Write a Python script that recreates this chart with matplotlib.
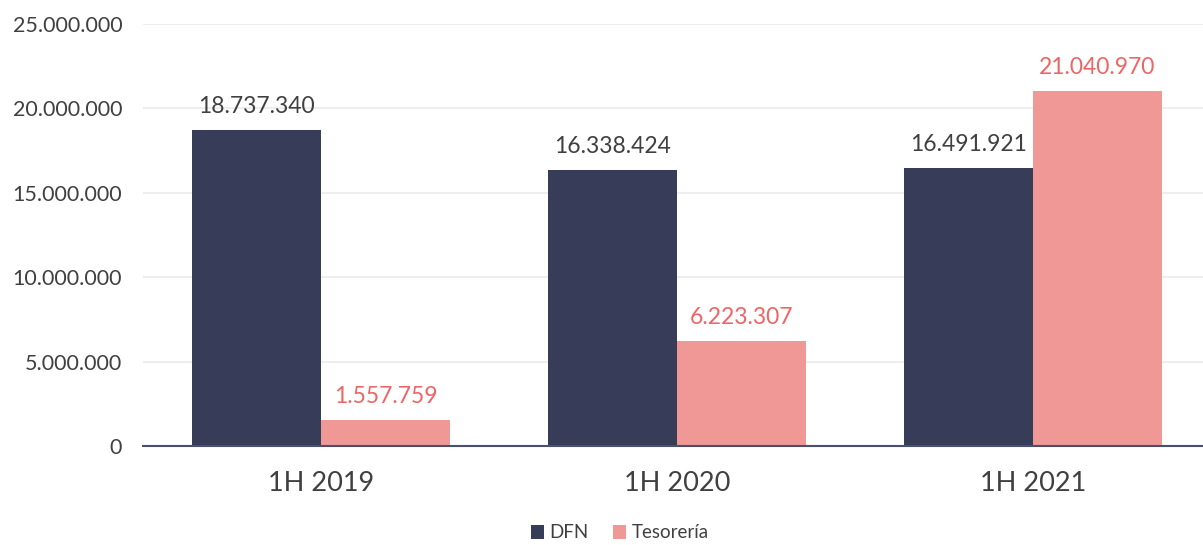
import matplotlib
matplotlib.use("Agg")
import matplotlib.pyplot as plt
import numpy as np
from matplotlib.ticker import FuncFormatter

categories = ["1H 2019", "1H 2020", "1H 2021"]
dfn = [18737340, 16338424, 16491921]
tesoreria = [1557759, 6223307, 21040970]
series_names = ["DFN", "Tesorería"]
yticks = [0, 5000000, 10000000, 15000000, 20000000, 25000000]

def fmt(v):
    return f"{int(v):,}".replace(",", ".")

plt.rcParams['font.family'] = ['Lato', 'DejaVu Sans']

W, H = 1203, 545
fig = plt.figure(figsize=(W/100, H/100), dpi=100)
ax = fig.add_axes([143/W, 99/H, 1 - 143/W, (446-24)/H])

x = np.arange(len(categories))
bw = 0.362
c_dfn = "#373D59"
c_tes = "#F09896"
b1 = ax.bar(x - bw/2, dfn, bw, color=c_dfn, label=series_names[0], zorder=3)
b2 = ax.bar(x + bw/2, tesoreria, bw, color=c_tes, label=series_names[1], zorder=3)

for rect, v in zip(b1, dfn):
    ax.annotate(fmt(v), (rect.get_x() + rect.get_width()/2, v), xytext=(0, 13),
                textcoords="offset pixels", ha="center", va="bottom",
                fontsize=16.5, color="#404040")
for rect, v in zip(b2, tesoreria):
    ax.annotate(fmt(v), (rect.get_x() + rect.get_width()/2, v), xytext=(0, 13),
                textcoords="offset pixels", ha="center", va="bottom",
                fontsize=16.5, color="#EE6565")

ax.set_xlim(-0.5, 2.478)
ax.set_ylim(0, 25000000)
ax.set_yticks(yticks)
ax.yaxis.set_major_formatter(FuncFormatter(lambda v, p: fmt(v)))
ax.set_xticks(x)
ax.set_xticklabels(categories, fontsize=19.5, color="#404040")
ax.tick_params(axis="y", labelsize=15.5, labelcolor="#404040", length=0, pad=15)
ax.tick_params(axis="x", length=0, pad=18)
ax.grid(axis="y", color="#EEEEEE", linewidth=1.5, zorder=0)
for s in ["top", "right", "left"]:
    ax.spines[s].set_visible(False)
ax.spines["bottom"].set_color("#4A5070")
ax.spines["bottom"].set_linewidth(1.5)
ax.spines["bottom"].set_zorder(4)

leg = fig.legend(handles=[b1, b2], labels=series_names, loc="center",
                 bbox_to_anchor=(620/W, 1 - 533/H), ncol=2, frameon=False,
                 fontsize=13.5, handlelength=0.7, handleheight=0.7,
                 handletextpad=0.3, columnspacing=1.3, labelcolor="#404040",
                 borderpad=0.1)

fig.savefig("out.png", dpi=100)
